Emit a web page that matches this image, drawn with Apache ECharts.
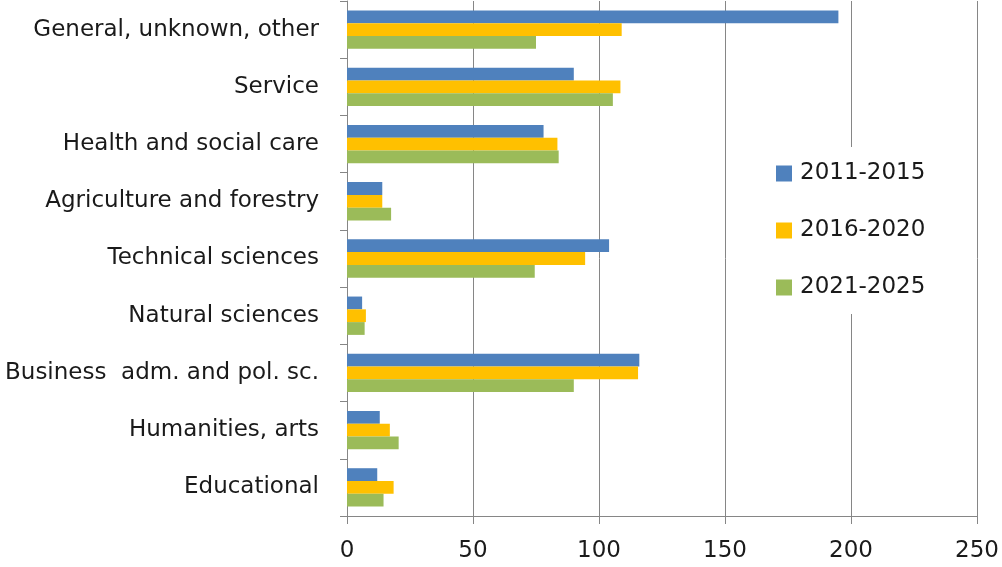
<!DOCTYPE html>
<html>
<head>
<meta charset="utf-8">
<script src="https://cdn.jsdelivr.net/npm/echarts@6/dist/echarts.min.js"></script>
<style>
  html, body { margin: 0; padding: 0; background: #fff; }
  #chart { width: 1002px; height: 567px; }
</style>
</head>
<body>
<div id="chart"></div>
<script>
// categories, top to bottom as in the picture
const categories = [
  'General, unknown, other',
  'Service',
  'Health and social care',
  'Agriculture and forestry',
  'Technical sciences',
  'Natural sciences',
  'Business  adm. and pol. sc.',
  'Humanities, arts',
  'Educational'
];
const seriesNames = ['2011-2015', '2016-2020', '2021-2025'];
const values2011 = [195, 90, 78, 14, 104, 6, 116, 13, 12];
const values2016 = [109, 108.5, 83.5, 14, 94.5, 7.5, 115.5, 17, 18.5];
const values2021 = [75, 105.5, 84, 17.5, 74.5, 7, 90, 20.5, 14.5];
const xTicks = [0, 50, 100, 150, 200, 250];

const colors = ['#4F81BD', '#FFC000', '#9BBB59'];
const fontFamily = '"DejaVu Sans", sans-serif';

let chart = echarts.init(document.getElementById('chart'));

let option = {
    animation: false,
    color: colors,
    textStyle: { fontFamily: fontFamily },
    grid: { left: 347, right: 25, top: 1, bottom: 51 },
    legend: {
        orient: 'vertical',
        left: 727,
        top: 147,
        backgroundColor: '#fff',
        padding: [15, 48, 15, 49],
        itemWidth: 16,
        itemHeight: 16,
        itemGap: 34,
        icon: 'rect',
        data: seriesNames,
        textStyle: { fontSize: 23, lineHeight: 23, color: '#1a1a1a', padding: [0, 0, 0, 3], fontFamily: fontFamily }
    },
    xAxis: {
        type: 'value',
        min: xTicks[0],
        max: xTicks[xTicks.length - 1],
        interval: 50,
        axisLine: { show: true, lineStyle: { color: '#868686', width: 1 } },
        axisTick: { show: true, length: 8, lineStyle: { color: '#868686' } },
        axisLabel: { fontSize: 23, color: '#1a1a1a', margin: 24, fontFamily: fontFamily },
        splitLine: { show: true, lineStyle: { color: '#868686', width: 1 } }
    },
    yAxis: {
        type: 'category',
        inverse: true,
        data: categories,
        axisLine: { show: true, lineStyle: { color: '#868686', width: 1 } },
        axisTick: { show: true, length: 7, lineStyle: { color: '#868686' } },
        axisLabel: { fontSize: 23, color: '#1a1a1a', margin: 28, fontFamily: fontFamily }
    },
    series: [
        { name: seriesNames[0], type: 'bar', data: values2011, barGap: '0%', barCategoryGap: '33%' },
        { name: seriesNames[1], type: 'bar', data: values2016, barGap: '0%', barCategoryGap: '33%' },
        { name: seriesNames[2], type: 'bar', data: values2021, barGap: '0%', barCategoryGap: '33%' }
    ]
};

chart.setOption(option);
</script>
</body>
</html>
